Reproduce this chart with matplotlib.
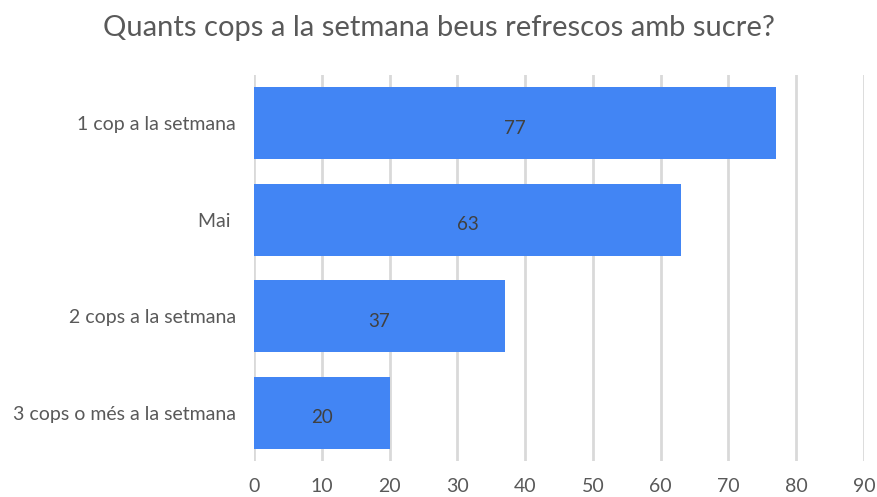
import matplotlib
matplotlib.use("Agg")
import matplotlib.pyplot as plt

categories = ["1 cop a la setmana", "Mai ", "2 cops a la setmana", "3 cops o més a la setmana"]
values = [77, 63, 37, 20]
xticks = [0, 10, 20, 30, 40, 50, 60, 70, 80, 90]

plt.rcParams['font.family'] = ['Lato', 'DejaVu Sans']

fig = plt.figure(figsize=(8.78, 4.97), dpi=100)
ax = fig.add_axes([0.2893, 0.0724, 0.6948, 0.7767])

pos = list(range(len(categories)))
ax.barh(pos, values, height=0.75, color="#4285F4", zorder=3)
for p, v in zip(pos, values):
    ax.text(v / 2, p + 0.05, str(v), ha="center", va="center", fontsize=13.5, color="#404040", zorder=4)

ax.set_xlim(0, 90)
ax.set_ylim(len(categories) - 0.5, -0.5)
ax.set_xticks(xticks)
ax.set_yticks(pos)
ax.set_yticklabels(categories)
ax.grid(axis="x", color="#d9d9d9", linewidth=2, zorder=0)
ax.tick_params(axis="both", length=0, labelsize=14, labelcolor="#595959")
ax.tick_params(axis="x", pad=12)
ax.tick_params(axis="y", pad=13)
for s in ax.spines.values():
    s.set_visible(False)

fig.text(0.5, 0.944, "Quants cops a la setmana beus refrescos amb sucre?",
         ha="center", va="center", fontsize=21, color="#595959")

fig.savefig("out.png", dpi=100)
